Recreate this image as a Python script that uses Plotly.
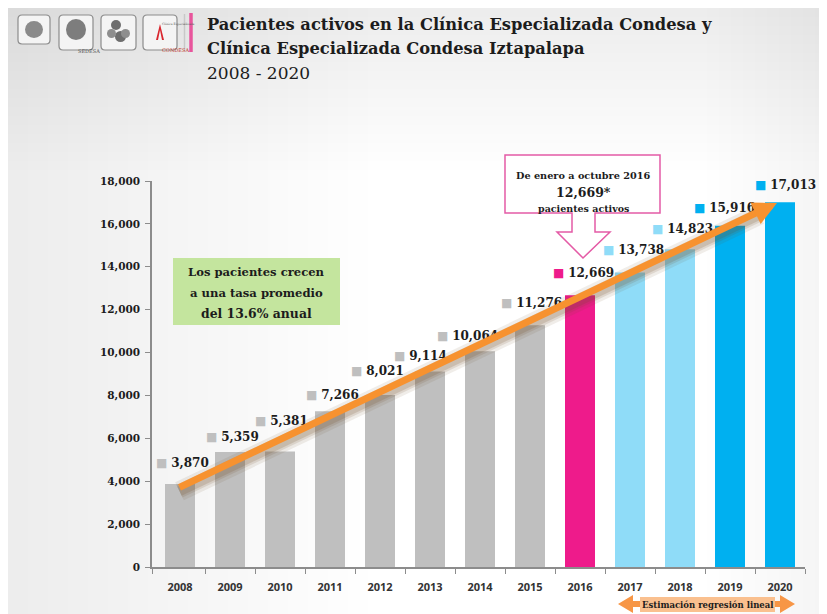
import plotly.graph_objects as go

# ---------------- data ----------------
years = [2008, 2009, 2010, 2011, 2012, 2013, 2014, 2015, 2016, 2017, 2018, 2019, 2020]
patients = [3870, 5359, 5381, 7266, 8021, 9114, 10064, 11276, 12669, 13738, 14823, 15916, 17013]
bar_colors = ["#BFBFBF"] * 8 + ["#EE1B8B"] + ["#8FDCF8"] * 2 + ["#00B0F0"] * 2
y_ticks = [0, 2000, 4000, 6000, 8000, 10000, 12000, 14000, 16000, 18000]
title_lines = ["Pacientes activos en la Clínica Especializada Condesa y",
               "Clínica Especializada Condesa Iztapalapa"]
subtitle = "2008 - 2020"
note_lines = ["Los pacientes crecen", "a una tasa promedio", "del 13.6% anual"]
callout_lines = ["De enero a octubre 2016", "12,669*", "pacientes activos"]
estimate_label = "Estimación regresión lineal"

# manual label placement (pixel offsets from bar top-centre), as in the original slide
label_dx = [2.5, 2, 1, 2, -2.5, -10, -13, 1, 3, 3, 2, -6, 5]
label_dy = [21, 15, 31, 16, 24, 16, 15, 22, 22, 22, 20, 18, 17]

# ---------------- geometry helpers (page pixel coords -> paper) ----------------
OX, OY = 8, 8            # page body margin
W, H = 819, 606          # figure size
L, R, T, B = 144, 22, 173, 47
PW, PH = W - L - R, H - T - B


def PX(x):
    return (x - OX - L) / PW


def PY(y):
    return (H - B - (y - OY)) / PH


def path(points):
    return "M " + " L ".join(f"{PX(x):.5f},{PY(y):.5f}" for x, y in points) + " Z"


def rrect(x0, y0, x1, y1, r):
    return (f"M {PX(x0 + r):.5f},{PY(y0):.5f} L {PX(x1 - r):.5f},{PY(y0):.5f} "
            f"Q {PX(x1):.5f},{PY(y0):.5f} {PX(x1):.5f},{PY(y0 + r):.5f} "
            f"L {PX(x1):.5f},{PY(y1 - r):.5f} Q {PX(x1):.5f},{PY(y1):.5f} {PX(x1 - r):.5f},{PY(y1):.5f} "
            f"L {PX(x0 + r):.5f},{PY(y1):.5f} Q {PX(x0):.5f},{PY(y1):.5f} {PX(x0):.5f},{PY(y1 - r):.5f} "
            f"L {PX(x0):.5f},{PY(y0 + r):.5f} Q {PX(x0):.5f},{PY(y0):.5f} {PX(x0 + r):.5f},{PY(y0):.5f} Z")


SERIF = "DejaVu Serif"
DARK = "#1c1c1c"

fig = go.Figure()
fig.add_trace(go.Bar(
    x=years, y=patients, width=0.6,
    marker=dict(color=bar_colors, line=dict(width=0)),
    hoverinfo="x+y", showlegend=False,
))

shapes = []
annotations = []

# ---------------- background vignette ----------------
n = 18
for i in range(n):
    shapes.append(dict(type="rect", xref="paper", yref="paper", layer="below",
                       x0=PX(8), x1=PX(8 + (i + 1) * 20), y0=PY(OY + H), y1=PY(8),
                       line=dict(width=0), fillcolor="rgba(0,0,0,0.0052)"))
for i in range(n):
    shapes.append(dict(type="rect", xref="paper", yref="paper", layer="below",
                       x0=PX(8), x1=PX(OX + W), y0=PY(8 + (i + 1) * 9), y1=PY(8),
                       line=dict(width=0), fillcolor="rgba(0,0,0,0.0044)"))
for i in range(10):
    shapes.append(dict(type="rect", xref="paper", yref="paper", layer="below",
                       x0=PX(OX + W - (i + 1) * 12), x1=PX(OX + W), y0=PY(OY + H), y1=PY(8),
                       line=dict(width=0), fillcolor="rgba(0,0,0,0.0035)"))

# ---------------- logos ----------------
logo_boxes = [(18, 15, 50, 44), (59, 15, 93, 50), (101, 15, 136, 50), (143, 15, 177, 50)]
for (x0, y0, x1, y1) in logo_boxes:
    shapes.append(dict(type="path", xref="paper", yref="paper", path=rrect(x0, y0, x1, y1, 4),
                       fillcolor="#F4F4F4", line=dict(color="#8C8C8C", width=1.2)))
shapes.append(dict(type="circle", xref="paper", yref="paper", x0=PX(25), x1=PX(43), y0=PY(38), y1=PY(21),
                   fillcolor="#8A8A8A", line=dict(width=0)))
shapes.append(dict(type="circle", xref="paper", yref="paper", x0=PX(66), x1=PX(86), y0=PY(40), y1=PY(19),
                   fillcolor="#7D7D7D", line=dict(width=0)))
for (cx0, cy0, cx1, cy1, col) in [(111, 20, 121, 30, "#6E6E6E"), (115, 31, 126, 42, "#6E6E6E"),
                                  (107, 29, 116, 38, "#8E8E8E"), (121, 29, 130, 38, "#8E8E8E")]:
    shapes.append(dict(type="circle", xref="paper", yref="paper", x0=PX(cx0), x1=PX(cx1),
                       y0=PY(cy1), y1=PY(cy0), fillcolor=col, line=dict(width=0)))
shapes.append(dict(type="path", xref="paper", yref="paper",
                   path=path([(156, 40), (160, 24), (164, 40), (162, 40), (160, 30), (158, 40)]),
                   fillcolor="#D9262E", line=dict(width=0)))
annotations.append(dict(xref="paper", yref="paper", x=PX(76), y=PY(46), text="SEDESA", showarrow=False,
                        font=dict(family=SERIF, size=5, color="#555")))
annotations.append(dict(xref="paper", yref="paper", x=PX(160), y=PY(45), text="CONDESA", showarrow=False,
                        font=dict(family=SERIF, size=5, color="#C0392B")))
annotations.append(dict(xref="paper", yref="paper", x=PX(160), y=PY(20), text="Clínica Especializada",
                        showarrow=False, font=dict(family=SERIF, size=3, color="#555")))
shapes.append(dict(type="line", xref="paper", yref="paper", x0=PX(184.5), x1=PX(184.5), y0=PY(14), y1=PY(51),
                   line=dict(color="#C8C8C8", width=1.5)))
shapes.append(dict(type="line", xref="paper", yref="paper", x0=PX(191), x1=PX(191), y0=PY(13), y1=PY(52),
                   line=dict(color="#E8559C", width=3.5)))

# ---------------- title ----------------
for txt, yc in zip(title_lines, [25, 48]):
    annotations.append(dict(xref="paper", yref="paper", x=PX(205), y=PY(yc), xanchor="left", yanchor="middle",
                            text=f"<b>{txt}</b>", showarrow=False,
                            font=dict(family=SERIF, size=16.3, color=DARK)))
annotations.append(dict(xref="paper", yref="paper", x=PX(205), y=PY(73), xanchor="left", yanchor="middle",
                        text=subtitle, showarrow=False, font=dict(family=SERIF, size=17, color=DARK)))

# ---------------- green note ----------------
shapes.append(dict(type="rect", xref="paper", yref="paper", x0=PX(173), x1=PX(340), y0=PY(325), y1=PY(258),
                   fillcolor="#C4E59E", line=dict(width=0)))
for txt, yc, fs in zip(note_lines, [272, 293, 313], [11.6, 11.6, 12.4]):
    annotations.append(dict(xref="paper", yref="paper", x=PX(256.5), y=PY(yc), xanchor="center",
                            yanchor="middle", text=f"<b>{txt}</b>", showarrow=False,
                            font=dict(family=SERIF, size=fs, color=DARK)))

# ---------------- value labels ----------------
for yr, v, c, dx, dy in zip(years, patients, bar_colors, label_dx, label_dy):
    annotations.append(dict(x=yr, y=v, xref="x", yref="y", xanchor="center", yanchor="middle",
                            xshift=dx, yshift=dy, showarrow=False,
                            text=f"<span style='color:{c}'>■</span> <b>{v:,}</b>",
                            font=dict(family=SERIF, size=12, color=DARK)))

# ---------------- trend arrow ----------------
ARROW_FROM = (2007.96, 3680)
ARROW_TO = (2019.94, 16975)
for w, a in [(20, 0.10), (14, 0.14), (10, 0.18)]:
    shapes.append(dict(type="line", xref="x", yref="y", layer="above",
                       x0=ARROW_FROM[0] + 0.03, y0=ARROW_FROM[1] - 150,
                       x1=ARROW_TO[0] - 0.35, y1=ARROW_TO[1] - 550,
                       line=dict(color=f"rgba(110,80,40,{a})", width=w)))
annotations.append(dict(x=ARROW_TO[0], y=ARROW_TO[1], ax=ARROW_FROM[0], ay=ARROW_FROM[1],
                        xref="x", yref="y", axref="x", ayref="y", text="", showarrow=True,
                        arrowhead=2, arrowsize=0.68, arrowwidth=7, arrowcolor="#F7922F"))

# ---------------- callout ----------------
shapes.append(dict(type="path", xref="paper", yref="paper",
                   path=path([(505, 155), (660, 155), (660, 213), (595, 213), (595, 232), (610, 232),
                              (583, 258), (557, 232), (572, 232), (572, 213), (505, 213)]),
                   fillcolor="white", line=dict(color="#E45BA6", width=1.5)))
for txt, yc, fs in zip(callout_lines, [176, 192, 208], [9.7, 12.5, 9.5]):
    annotations.append(dict(xref="paper", yref="paper", x=PX(583), y=PY(yc), xanchor="center",
                            yanchor="middle", text=f"<b>{txt}</b>", showarrow=False,
                            font=dict(family=SERIF, size=fs, color=DARK)))

# ---------------- estimation double arrow ----------------
shapes.append(dict(type="path", xref="paper", yref="paper",
                   path=path([(618, 604), (633, 595), (633, 601), (780, 601), (780, 595), (795, 604),
                              (780, 613), (780, 607), (633, 607), (633, 613)]),
                   fillcolor="#F79646", line=dict(width=0)))
shapes.append(dict(type="rect", xref="paper", yref="paper", x0=PX(640), x1=PX(775), y0=PY(612), y1=PY(597),
                   fillcolor="#FAC08F", line=dict(width=0)))
annotations.append(dict(xref="paper", yref="paper", x=PX(707.5), y=PY(604.5), xanchor="center",
                        yanchor="middle", text=f"<b>{estimate_label}</b>", showarrow=False,
                        font=dict(family=SERIF, size=8.5, color=DARK)))

fig.update_layout(
    width=W, height=H,
    margin=dict(l=L, r=R, t=T, b=B, pad=0),
    paper_bgcolor="white", plot_bgcolor="rgba(0,0,0,0)",
    shapes=shapes, annotations=annotations,
    bargap=0.4, showlegend=False,
    xaxis=dict(range=[2007.44, 2020.5], tickmode="array", tickvals=years,
               ticktext=[str(y) for y in years], ticks="", showgrid=False, zeroline=False,
               showline=True, linecolor="#8C8C8C", linewidth=2, ticklabelstandoff=9,
               tickfont=dict(family="Open Sans", size=11, color="#333333", weight="bold"),
               minor=dict(tickmode="array", tickvals=[y + 0.5 for y in years[:-1]] + [2007.44, 2020.5],
                          ticks="outside", ticklen=5, tickcolor="#8C8C8C", tickwidth=1, showgrid=False),
               fixedrange=True),
    yaxis=dict(range=[0, 18000], tickmode="array", tickvals=y_ticks, tickformat=",d",
               ticks="outside", ticklen=5, tickcolor="#8C8C8C", showgrid=False, zeroline=False,
               showline=True, linecolor="#8C8C8C", linewidth=1.5, ticklabelstandoff=3,
               tickfont=dict(family=SERIF, size=10.5, color=DARK, weight="bold"), fixedrange=True),
)

fig.write_html("out.html")
